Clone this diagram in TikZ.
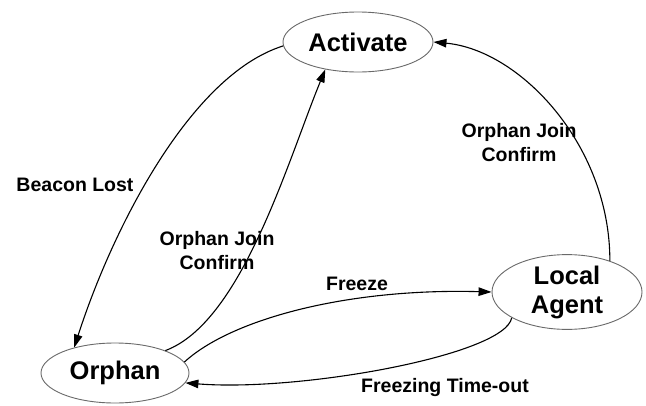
\documentclass[tikz,border=0pt]{standalone}
\usepackage{fontspec}
\setmainfont{Liberation Sans}
\usetikzlibrary{shapes.geometric,arrows.meta}
\definecolor{rim}{RGB}{105,105,105}
\tikzset{
  state/.style={ellipse, draw=rim, line width=0.9pt, fill=white, inner sep=0pt,
    minimum width=150pt, minimum height=60pt, align=center,
    font=\fontsize{25.5}{29}\selectfont\bfseries},
  edge/.style={line width=1.1pt, -{Triangle[length=13pt,width=8.5pt]}},
  lbl/.style={font=\fontsize{19.5}{24}\selectfont\bfseries, align=center, inner sep=0pt}
}
\begin{document}
\begin{tikzpicture}[x=1pt,y=-1pt]
  \useasboundingbox (0,0) rectangle (646,405);

  % states
  \node[state] (act) at (358,42) {Activate};
  \node[state, minimum width=148pt] (orph) at (115,373) {Orphan};
  \node[state, minimum height=64pt] (la) at (567,292) {Local\\Agent};

  % transitions
  \draw[edge] (act.183) .. controls (190,75) and (112,230) .. (orph.148);
  \draw[edge] (orph.24) .. controls (242,322) and (288,160) .. (act.220);
  \draw[edge] (orph.9) .. controls (230,320) and (345,288) .. (la.180);
  \draw[edge] (la.205) .. controls (505,355) and (300,392) .. (orph.-8);
  \draw[edge] (la.36) .. controls (610,145) and (520,50) .. (act.0);

  % transition labels
  \node[lbl, anchor=base] (bl) at (75,191) {Beacon Lost};
  \node[lbl] (ojc1) at (217,251) {Orphan Join\\Confirm};
  \node[lbl] (ojc2) at (519,143) {Orphan Join\\Confirm};
  \node[lbl, anchor=base] (fr) at (357,290) {Freeze};
  \node[lbl, anchor=base] (fto) at (445,392) {Freezing Time-out};
\end{tikzpicture}
\end{document}
